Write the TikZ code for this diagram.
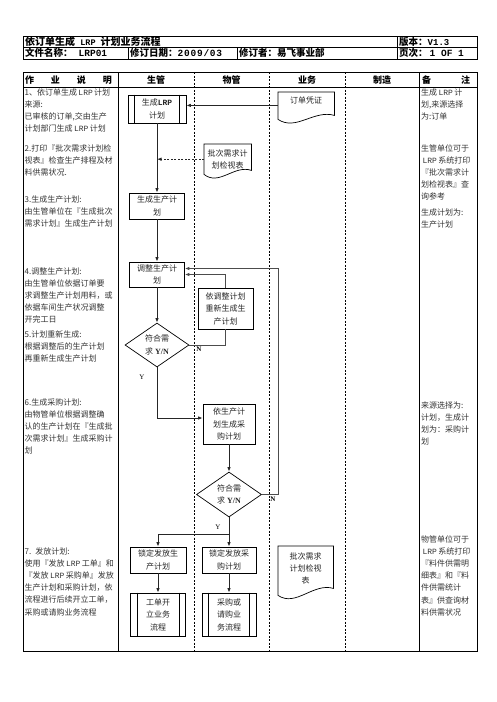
\documentclass[tikz,border=0pt]{standalone}
\usepackage{fontspec}
\setmainfont{Noto Sans CJK SC}
\newfontfamily\monof{Liberation Mono}
\newfontfamily\serif{Liberation Serif}
\usetikzlibrary{shapes.geometric,arrows.meta,calc}
\newcommand\LRP{\,{\monof LRP}\,}
\newcommand\docpath[3]{\draw[shpl] (#1.north west) -- (#1.north east) -- ($(#1.south east)+(0,#3)$) .. controls ($(#1.south east)!0.36!(#1.south west)+(0,#3-6)$) and ($(#1.south east)!0.68!(#1.south west)+(0,#2+12)$) .. ($(#1.south west)+(0,#2)$) -- cycle;}
\newcommand\predef[1]{\draw[shpl] ($(#1.north west)+(7,0)$) -- ($(#1.south west)+(7,0)$) ($(#1.north east)+(-7,0)$) -- ($(#1.south east)+(-7,0)$);}
\begin{document}
\begin{tikzpicture}[x=1pt,y=-1pt,
  tl/.style={line width=0.8pt},
  dl/.style={line width=0.6pt,dash pattern=on 2pt off 1.5pt},
  shpl/.style={line width=0.7pt},
  bx/.style={draw,line width=0.7pt,align=center,inner sep=1pt,font=\fontsize{8}{12.5}\selectfont,text=black!85},
  dia/.style={draw,diamond,aspect=1.5,inner sep=0pt,line width=0.7pt,align=center,font=\fontsize{8}{12.5}\selectfont,text=black!85},
  docn/.style={inner sep=0pt,align=center,font=\fontsize{8}{12}\selectfont,text=black!85,anchor=north west},
  arr/.style={line width=0.9pt,draw=black!85,-{Latex[length=4.5pt,width=3.5pt]}},
  loopl/.style={line width=1pt,draw=black!70},
  para/.style={anchor=base west,inner sep=0pt,text width=#1,align=left,font=\fontsize{8}{12.2}\selectfont,text=black!80},
  hd/.style={font=\fontsize{9}{9}\selectfont\bfseries,inner sep=0pt},
  hdt/.style={font=\fontsize{9.5}{9.5}\selectfont\bfseries,inner sep=0pt,anchor=west},
  lab/.style={font=\fontsize{7}{7}\selectfont\serif,inner sep=0pt}]
\fill[white] (0,0) rectangle (496,702);
\useasboundingbox (0,0) rectangle (496,702);
% header table
\draw[tl] (23,36) rectangle (477,59);
\draw[tl] (23,47) -- (477,47);
\draw[tl] (397,36) -- (397,59);
\draw[tl] (128,47) -- (128,59);
\draw[tl] (237,47) -- (237,59);
\node[hdt,font=\fontsize{10}{10}\selectfont\bfseries] (title) at (25,41.5) {依订单生成{\monof\fontsize{8.5}{8.5}\selectfont\ LRP\ }计划业务流程};
\node[hdt] (ver) at (399,41.5) {版本：{\monof\fontsize{9}{9}\selectfont V1.3}};
\node[hdt] (fname) at (25,53) {文件名称：\hspace{6pt}{\monof\fontsize{9.5}{9.5}\selectfont LRP01}};
\node[hdt] (date) at (130,53) {修订日期：{\monof\fontsize{9.5}{9.5}\selectfont\addfontfeature{LetterSpace=8}2009/03}};
\node[hdt] (rev) at (239,53) {修订者：易飞事业部};
\node[hdt] (page) at (399,53) {页次：\hspace{2pt}{\monof\fontsize{9.5}{9.5}\selectfont 1 OF 1}};
% main table
\draw[tl] (23,72) rectangle (477,651);
\draw[tl] (23,87) -- (477,87);
\draw[tl] (118,72) -- (118,651);
\draw[tl] (419,72) -- (419,651);
\draw[dl] (194,72) -- (194,651);
\draw[dl] (269,72) -- (269,651);
\draw[dl] (345,72) -- (345,651);
\node[hd] (h0) at (68.5,80) {\makebox[87pt][s]{作\hfil 业\hfil 说\hfil 明}};
\node[hd] (h1) at (156,80) {生管};
\node[hd] (h2) at (231.5,80) {物管};
\node[hd] (h3) at (307,80) {业务};
\node[hd] (h4) at (382,80) {制造};
\node[hd] (h5) at (446,80) {\makebox[48pt][s]{备\hfil 注}};
% column 1 text
\node[para=92pt] (p1) at (24.5,95) {1、依订单生成\LRP{}计划\\来源:\\已审核的订单,交由生产\\计划部门生成\LRP{}计划};
\node[para=92pt] (p2) at (24.5,151) {2.打印『批次需求计划检\\视表』检查生产排程及材\\料供需状况.};
\node[para=92pt] (p3) at (24.5,202) {3.生成生产计划:\\由生管单位在『生成批次\\需求计划』生成生产计划};
\node[para=92pt] (p4) at (24.5,274) {4.调整生产计划:\\由生管单位依据订单要\\求调整生产计划用料，或\\依据车间生产状况调整\\开完工日};
\node[para=92pt] (p5) at (24.5,337) {5.计划重新生成:\\根据调整后的生产计划\\再重新生成生产计划};
\node[para=92pt] (p6) at (24.5,405) {6.生成采购计划:\\由物管单位根据调整确\\认的生产计划在『生成批\\次需求计划』生成采购计\\划};
\node[para=92pt] (p7) at (24.5,554) {7. 发放计划:\\使用『发放\LRP{}工单』和\\『发放\LRP{}采购单』发放\\生产计划和采购计划，依\\流程进行后续开立工单，\\采购或请购业务流程};
% remarks
\node[para=56pt] (r1) at (421,95) {生成\LRP{}计\\划,来源选择\\为:订单};
\node[para=56pt] (r2) at (421,151) {生管单位可于\\\LRP{}系统打印\\『批次需求计\\划检视表』查\\询参考};
\node[para=56pt] (r3) at (421,215) {生成计划为:\\生产计划};
\node[para=56pt] (r4) at (421,408) {来源选择为:\\计划，生成计\\划为：采购计\\划};
\node[para=56pt] (r5) at (421,542) {物管单位可于\\\LRP{}系统打印\\『料件供需明\\细表』和『料\\件供需统计\\表』供查询材\\料供需状况};
% flow shapes
\node[bx,minimum width=58,minimum height=28] (lrp) at (157,109) {生成{\bfseries\monof LRP}\\计划};
\predef{lrp}
\node[docn,minimum width=56,minimum height=16] (doc1) at (278,92) {订单凭证};
\docpath{doc1}{11}{7}
\node[docn,minimum width=47,minimum height=30] (doc2) at (204,144) {批次需求计\\划检视表};
\docpath{doc2}{0}{-4}
\node[bx,minimum width=55,minimum height=26] (gen) at (157,206) {生成生产计\\划};
\node[bx,minimum width=55,minimum height=25] (adj) at (157,274.5) {调整生产计\\划};
\node[dia,minimum width=64,minimum height=44] (dia1) at (157,345) {符合需\\求 {\bfseries\serif Y/N}};
\node[bx,minimum width=55,minimum height=41] (regen) at (225.5,308.5) {依调整计划\\重新生成生\\产计划};
\node[bx,minimum width=52,minimum height=40] (pur) at (229,424) {依生产计\\划生成采\\购计划};
\node[dia,minimum width=65,minimum height=45] (dia2) at (229,494.5) {符合需\\求 {\bfseries\serif Y/N}};
\node[bx,minimum width=56,minimum height=26] (lock1) at (158,560) {锁定发放生\\产计划};
\node[bx,minimum width=54,minimum height=26] (lock2) at (229,560) {锁定发放采\\购计划};
\node[bx,minimum width=55,minimum height=43] (work1) at (158,614.5) {工单开\\立业务\\流程};
\predef{work1}
\node[bx,minimum width=54,minimum height=43] (work2) at (229,614.5) {采购或\\请购业\\务流程};
\predef{work2}
\node[docn,minimum width=55,minimum height=44] (doc3) at (278,546) {批次需求\\计划检视\\表};
\docpath{doc3}{5}{-2}
% labels
\node[lab,font=\fontsize{7}{7}\selectfont\serif\bfseries] (n1) at (199,349) {N};
\node[lab] (y1) at (142,377) {Y};
\node[lab,font=\fontsize{7}{7}\selectfont\serif\bfseries] (n2) at (273,499) {N};
\node[lab] (y2) at (218,527) {Y};
% connectors
\coordinate (d1a) at ($(doc1.south west)+(0,-3)$);
\draw[arr] (d1a) -- (d1a -| lrp.east);
\draw[arr,dash pattern=on 2pt off 1.5pt] (doc2.west) -- (doc2.west -| lrp.south);
\draw[arr] (lrp.south) -- (gen.north);
\draw[arr] (gen.south) -- (adj.north);
\draw[arr] (adj.south) -- (dia1.north);
\draw[loopl] (dia1.east) -| (regen.south);
\draw[loopl,-{Latex[length=4.5pt,width=3.5pt]}] (regen.north) |- (adj.east);
\coordinate (lx) at (278,0);
\draw[loopl,-{Latex[length=4.5pt,width=3.5pt]}] (dia2.east) -- (dia2.east -| lx) |- ($(adj.east)+(0,-6)$);
\draw[arr] (dia1.south) |- ($(pur.west)+(0,-6)$);
\draw[arr] (pur.south) -- (dia2.north);
\coordinate (jy) at (0,534);
\coordinate (jn) at (dia2.south |- jy);
\draw[arr] (dia2.south) -- (lock2.north);
\draw[arr] (jn) -| (lock1.north);
\draw[arr] (lock1.south) -- (work1.north);
\draw[arr] (lock2.south) -- (work2.north);
\end{tikzpicture}
\end{document}
